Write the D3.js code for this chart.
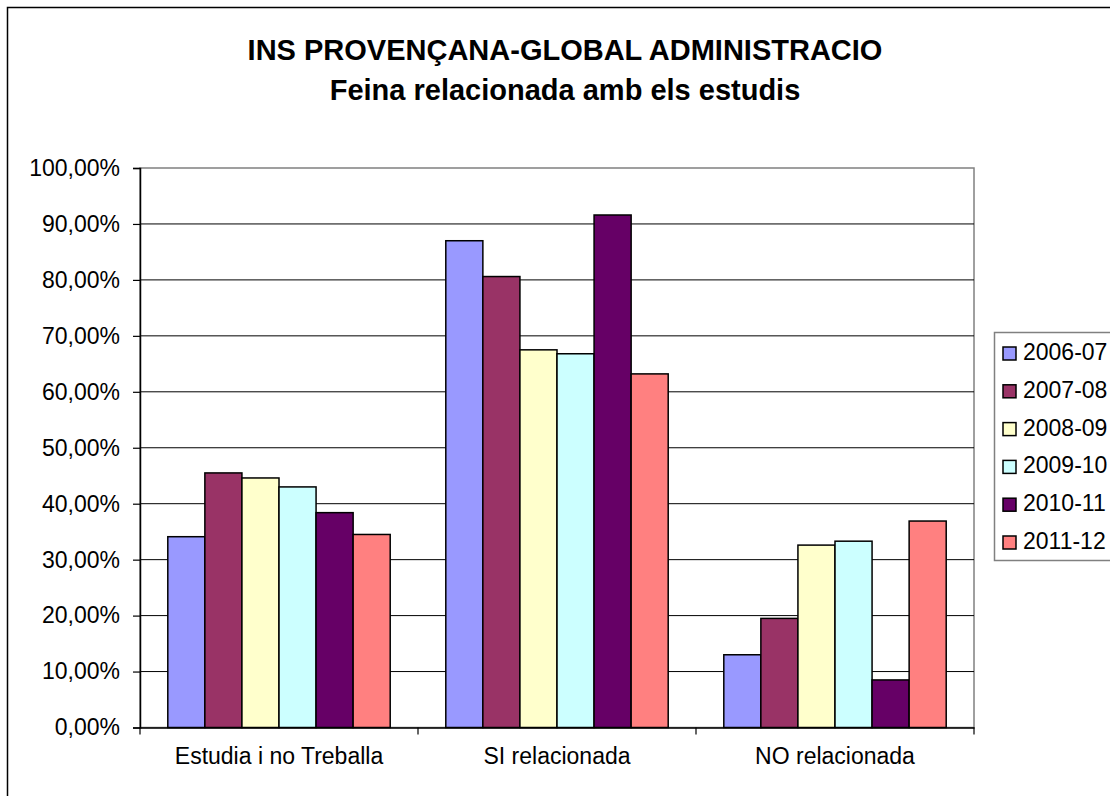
<!DOCTYPE html>
<html>
<head>
<meta charset="utf-8">
<script src="https://cdn.jsdelivr.net/npm/d3@7"></script>
<style>
  body { margin: 0; background: #fff; }
  svg { font-family: "Liberation Sans", Arial, sans-serif; }
</style>
</head>
<body>
<svg id="chart" width="1110" height="796"></svg>
<script>
// data
var categories = ['Estudia i no Treballa', 'SI relacionada', 'NO relacionada']
var seriesNames = ['2006-07', '2007-08', '2008-09', '2009-10', '2010-11', '2011-12']
var seriesColors = ['#9999FF', '#993366', '#FFFFCC', '#CCFFFF', '#660066', '#FF8080']
var values2006 = [34.1, 87.0, 13.0]
var values2007 = [45.5, 80.6, 19.5]
var values2008 = [44.6, 67.5, 32.6]
var values2009 = [43.0, 66.8, 33.3]
var values2010 = [38.4, 91.6, 8.5]
var values2011 = [34.5, 63.2, 36.9]
var yTicks = [0, 10, 20, 30, 40, 50, 60, 70, 80, 90, 100]

var seriesValues = [values2006, values2007, values2008, values2009, values2010, values2011]

function drawChart() {
  var svg = d3.select('#chart')

  // outer chart border
  svg.append('rect')
    .attr('x', 7.5).attr('y', 7.5)
    .attr('width', 1200).attr('height', 900)
    .attr('fill', 'none').attr('stroke', '#000').attr('stroke-width', 1.5)

  // titles
  svg.append('text')
    .attr('x', 565).attr('y', 60)
    .attr('text-anchor', 'middle')
    .attr('font-weight', 'bold').attr('font-size', 29)
    .text('INS PROVENÇANA-GLOBAL ADMINISTRACIO')
  svg.append('text')
    .attr('x', 565).attr('y', 100)
    .attr('text-anchor', 'middle')
    .attr('font-weight', 'bold').attr('font-size', 29)
    .text('Feina relacionada amb els estudis')

  const plotLeft = 140, plotRight = 974, plotTop = 168, plotBottom = 727.5

  const x0 = d3.scaleBand()
    .domain(categories)
    .range([plotLeft, plotRight])
    .paddingInner(0).paddingOuter(0)

  // gap width ~150% of a bar
  const x1 = d3.scaleBand()
    .domain(seriesNames)
    .range([0, x0.bandwidth()])
    .paddingInner(0)
    .paddingOuter(0.75)

  const y = d3.scaleLinear().domain([0, 100]).range([plotBottom, plotTop])

  // plot area border (grey top/right)
  svg.append('rect')
    .attr('x', plotLeft).attr('y', plotTop)
    .attr('width', plotRight - plotLeft).attr('height', plotBottom - plotTop)
    .attr('fill', 'none').attr('stroke', '#808080').attr('stroke-width', 1.5)

  // gridlines
  svg.append('g')
    .selectAll('line')
    .data(yTicks.filter(d => d > 0 && d < 100))
    .enter().append('line')
    .attr('x1', plotLeft).attr('x2', plotRight)
    .attr('y1', d => y(d)).attr('y2', d => y(d))
    .attr('stroke', '#000').attr('stroke-width', 1)

  // bars
  const groups = svg.append('g')
    .selectAll('g')
    .data(categories)
    .enter().append('g')
    .attr('transform', d => `translate(${x0(d)},0)`)

  groups.selectAll('rect')
    .data((c, ci) => seriesNames.map((s, si) => ({ series: s, value: seriesValues[si][ci], color: seriesColors[si] })))
    .enter().append('rect')
    .attr('x', d => x1(d.series))
    .attr('y', d => y(d.value))
    .attr('width', x1.bandwidth())
    .attr('height', d => plotBottom - y(d.value))
    .attr('fill', d => d.color)
    .attr('stroke', '#000').attr('stroke-width', 1.5)

  // y axis
  const yAxis = svg.append('g')
    .attr('transform', `translate(${plotLeft},0)`)
    .call(d3.axisLeft(y)
      .tickValues(yTicks)
      .tickSize(7)
      .tickPadding(13)
      .tickFormat(d => d3.format('.2f')(d).replace('.', ',') + '%'))
  yAxis.select('.domain').attr('stroke', '#000').attr('stroke-width', 1.5)
  yAxis.selectAll('.tick line').attr('stroke', '#000').attr('stroke-width', 1.2)
  yAxis.selectAll('text').attr('font-size', 23).attr('fill', '#000')
    .attr('font-family', '"Liberation Sans", Arial, sans-serif')

  // x axis
  const xAxis = svg.append('g')
    .attr('transform', `translate(0,${plotBottom})`)
    .call(d3.axisBottom(x0).tickSize(0).tickPadding(20))
  xAxis.select('.domain').attr('stroke', '#000').attr('stroke-width', 1.5)
  xAxis.selectAll('text').attr('font-size', 23).attr('fill', '#000')
    .attr('font-family', '"Liberation Sans", Arial, sans-serif')

  // category separator ticks
  svg.append('g')
    .selectAll('line')
    .data(categories.map(c => x0(c)).concat([plotRight]))
    .enter().append('line')
    .attr('x1', d => d).attr('x2', d => d)
    .attr('y1', plotBottom).attr('y2', plotBottom + 7)
    .attr('stroke', '#000').attr('stroke-width', 1.2)

  // legend
  const legend = svg.append('g')
  legend.append('rect')
    .attr('x', 994.5).attr('y', 332.5)
    .attr('width', 200).attr('height', 228)
    .attr('fill', '#fff').attr('stroke', '#808080').attr('stroke-width', 1.5)

  const items = legend.selectAll('g.item')
    .data(seriesNames)
    .enter().append('g')
    .attr('class', 'item')
    .attr('transform', (d, i) => `translate(1003,${347 + i * 37.8})`)

  items.append('rect')
    .attr('width', 13).attr('height', 13)
    .attr('fill', (d, i) => seriesColors[i])
    .attr('stroke', '#000').attr('stroke-width', 1.5)
  items.append('text')
    .attr('x', 20).attr('y', 13)
    .attr('font-size', 23)
    .text(d => d)
}

drawChart()
</script>
</body>
</html>
